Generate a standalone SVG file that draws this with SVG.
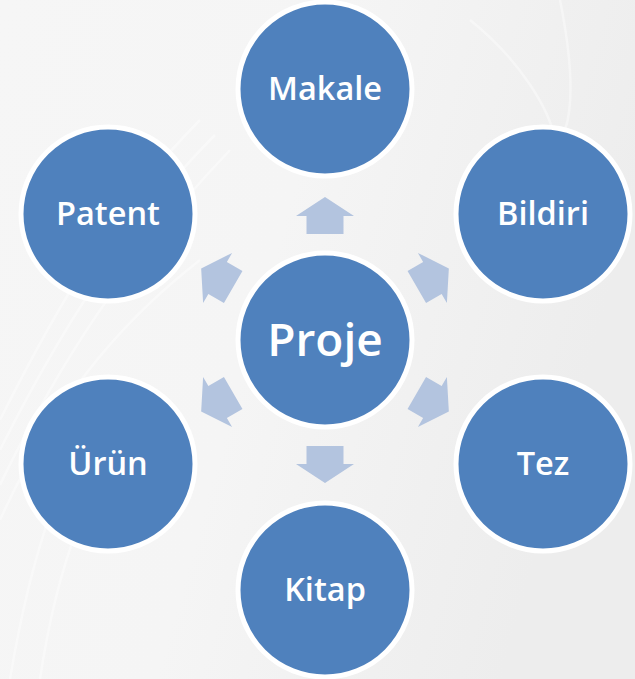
<svg xmlns="http://www.w3.org/2000/svg" width="635" height="679" viewBox="0 0 635 679">
  <defs>
    <linearGradient id="bg" x1="0" y1="0" x2="1" y2="0.3">
      <stop offset="0" stop-color="#f6f6f6"/>
      <stop offset="0.5" stop-color="#f5f5f5"/>
      <stop offset="1" stop-color="#ededed"/>
    </linearGradient>
    <polygon id="arr" points="0,-143 29,-124 18.5,-124 18.5,-106 -18.5,-106 -18.5,-124 -29,-124"/>
    <style>
      .node { fill: #4f81bd; stroke: #ffffff; stroke-width: 5; }
      .lbl { fill: #ffffff; font-family: "Open Sans", "Noto Sans", "Liberation Sans", sans-serif; font-weight: 600; font-size: 32.5px; text-anchor: middle; }
      .big { font-size: 46px; font-weight: 600; }
      .arrow { fill: #b3c4df; }
      .streak { fill: none; stroke: #ffffff; stroke-opacity: 0.4; stroke-width: 2.5; }
    </style>
  </defs>
  <rect width="635" height="679" fill="url(#bg)"/>
  <g id="background-streaks">
    <path class="streak" d="M0,420 C60,300 120,200 200,120"/>
    <path class="streak" d="M0,450 C60,330 130,220 215,135"/>
    <path class="streak" d="M0,485 C55,370 125,260 230,150"/>
    <path class="streak" d="M0,520 C50,410 110,330 200,260"/>
    <path class="streak" d="M10,679 C30,560 60,460 120,380"/>
    <path class="streak" d="M40,679 C55,580 80,500 130,430"/>
    <path class="streak" d="M470,20 C520,60 550,110 555,140"/>
    <path class="streak" d="M560,0 C570,50 575,100 565,130"/>
  </g>
  <g id="connectors">
    <use href="#arr" class="arrow" transform="translate(325,340)"/>
    <use href="#arr" class="arrow" transform="translate(325,340) rotate(60)"/>
    <use href="#arr" class="arrow" transform="translate(325,340) rotate(120)"/>
    <use href="#arr" class="arrow" transform="translate(325,340) rotate(180)"/>
    <use href="#arr" class="arrow" transform="translate(325,340) rotate(240)"/>
    <use href="#arr" class="arrow" transform="translate(325,340) rotate(300)"/>
  </g>
  <g id="node-proje">
    <circle class="node" cx="325" cy="340" r="87"/>
    <text class="lbl big" x="325" y="356">Proje</text>
  </g>
  <g id="node-makale">
    <circle class="node" cx="325" cy="89" r="87"/>
    <text class="lbl" x="325" y="100">Makale</text>
  </g>
  <g id="node-bildiri">
    <circle class="node" cx="543" cy="214" r="87"/>
    <text class="lbl" x="543" y="225">Bildiri</text>
  </g>
  <g id="node-tez">
    <circle class="node" cx="543" cy="464" r="87"/>
    <text class="lbl" x="543" y="475">Tez</text>
  </g>
  <g id="node-kitap">
    <circle class="node" cx="325" cy="590" r="87"/>
    <text class="lbl" x="325" y="601">Kitap</text>
  </g>
  <g id="node-urun">
    <circle class="node" cx="108" cy="464" r="87"/>
    <text class="lbl" x="108" y="475">Ürün</text>
  </g>
  <g id="node-patent">
    <circle class="node" cx="108" cy="214" r="87"/>
    <text class="lbl" x="108" y="225">Patent</text>
  </g>
</svg>
